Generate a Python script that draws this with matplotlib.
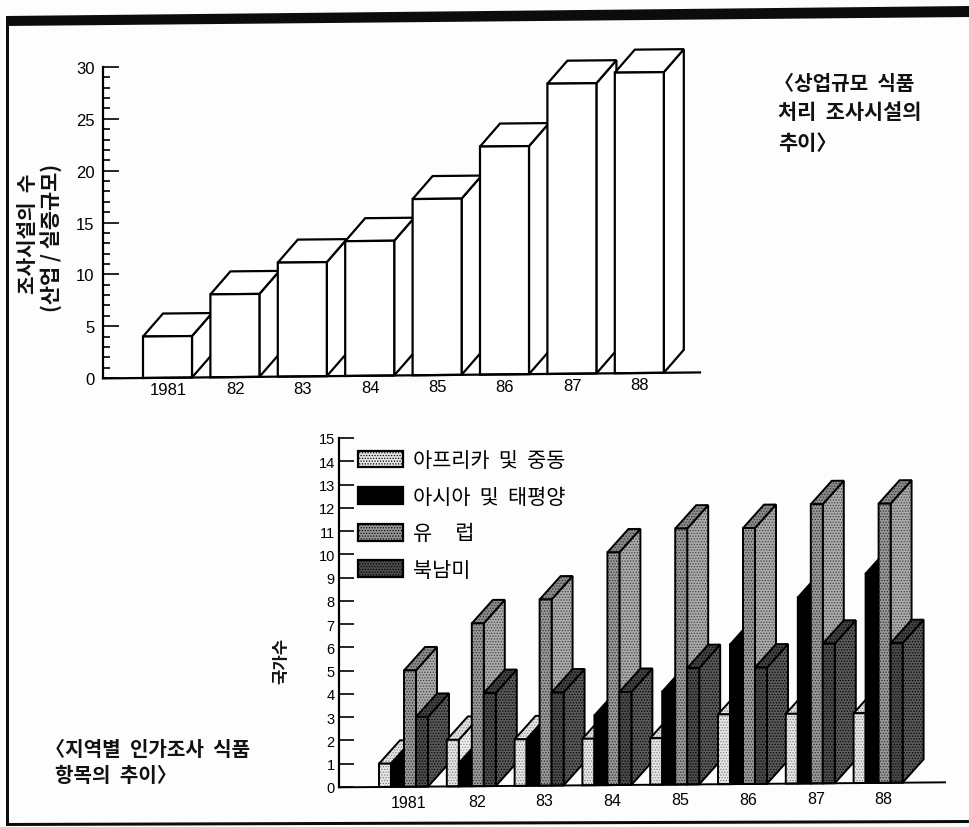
import matplotlib
matplotlib.use('Agg')
import matplotlib.pyplot as plt
from matplotlib.patches import Polygon, Patch
from matplotlib.transforms import Affine2D

plt.rcParams['font.family'] = ['Noto Sans CJK KR', 'DejaVu Sans']
plt.rcParams['hatch.linewidth'] = 0.6

years = ['1981', '82', '83', '84', '85', '86', '87', '88']
facilities = [4, 8, 11, 13, 17, 22, 28, 29]

africa = [1, 2, 2, 2, 2, 3, 3, 3]
asia = [1, 1, 2, 3, 4, 6, 8, 9]
europe = [5, 7, 8, 10, 11, 11, 12, 12]
america = [3, 4, 4, 4, 5, 5, 6, 6]
region_names = ['아프리카  및  중동', '아시아  및  태평양', '유     럽', '북남미']

W, H = 970, 828
fig = plt.figure(figsize=(W / 100, H / 100), dpi=100, facecolor='#fdfdfd')


def axes_px(x0, x1, ytop, ybottom):
    return fig.add_axes([x0 / W, 1 - ybottom / H, (x1 - x0) / W, (ybottom - ytop) / H])


def box(ax, x, w, v, dx, dy, trans, front, side, top, hatch=None, lw=1.6):
    faces = [
        ([(x + w, 0), (x + w + dx, dy), (x + w + dx, v + dy), (x + w, v)], side),
        ([(x, v), (x + w, v), (x + w + dx, v + dy), (x + dx, v + dy)], top),
        ([(x, 0), (x + w, 0), (x + w, v), (x, v)], front),
    ]
    for pts, col in faces:
        if hatch:
            # stipple goes in a separate patch so the outline stays black
            ax.add_patch(Polygon(pts, closed=True, facecolor=col[0], edgecolor=col[1], hatch=hatch,
                                 lw=0, transform=trans, clip_on=False))
            ax.add_patch(Polygon(pts, closed=True, fill=False, edgecolor='k', lw=lw,
                                 transform=trans, clip_on=False))
        else:
            ax.add_patch(Polygon(pts, closed=True, facecolor=col, edgecolor='k', lw=lw,
                                 transform=trans, clip_on=False))


def setup_axis(ax, major, minor, ylim, size, maj_len, pad):
    ax.set_ylim(ylim)
    for s in ['top', 'right', 'bottom']:
        ax.spines[s].set_visible(False)
    ax.spines['left'].set_linewidth(1.6)
    ax.patch.set_visible(False)
    ax.set_xticks([])
    ax.set_yticks(major)
    if minor:
        ax.set_yticks(minor, minor=True)
    ax.tick_params(axis='y', which='major', direction='in', length=maj_len, width=1.2,
                   labelsize=size, pad=pad)
    ax.tick_params(axis='y', which='minor', direction='in', length=5, width=1.2)
    for t in ax.get_yticklabels():
        t.set_fontfamily(['Liberation Sans'])


# ---- top chart
ax1 = axes_px(103, 700, 68, 379)
step = 67.4
ax1.set_xlim(-40 / step, 557 / step)
setup_axis(ax1, range(0, 31, 5), range(0, 31), (0, 30), 12, 11.5, 6)
skew1 = Affine2D.from_values(1, 0.065, 0, 1, 0, 0) + ax1.transData
for i, v in enumerate(facilities):
    box(ax1, i, 49 / step, v, 20 / step, 2.2, skew1, 'white', 'white', 'white')
    ax1.text(i + 25 / step, -1.15, years[i], transform=skew1, ha='center', va='center',
             fontsize=12, family=['Liberation Sans'])
ax1.plot([-40 / step, 557 / step], [0, 0], color='k', lw=1.6, transform=skew1, clip_on=False)

# ---- bottom chart
ax2 = axes_px(339, 945, 439, 788)
step2 = 67.8
ax2.set_xlim(-40 / step2, 566 / step2)
setup_axis(ax2, range(0, 16), None, (0, 15), 10.5, 11, 3)
skew2 = Affine2D.from_values(1, 0.024, 0, 1, 0, 0) + ax2.transData

# front, side, top as (face, stipple) pairs
styles = [
    (('#e6e6e6', '#808080'), ('#efefef', '#909090'), ('#e6e6e6', '#808080'), '......'),
    (('#000000', '#000000'), ('#000000', '#000000'), ('#000000', '#000000'), None),
    (('#989898', '#303030'), ('#ababab', '#404040'), ('#8c8c8c', '#303030'), '......'),
    (('#4c4c4c', '#000000'), ('#5a5a5a', '#000000'), ('#444444', '#000000'), '......'),
]
offsets = [0, 12 / step2, 25 / step2, 37 / step2]
series = [africa, asia, europe, america]
for i in range(len(years)):
    for s, vals in enumerate(series):
        front, side, top, hatch = styles[s]
        if hatch:
            box(ax2, i + offsets[s], 12 / step2, vals[i], 21 / step2, 1.0, skew2,
                front, side, top, hatch=hatch, lw=1.4)
        else:
            box(ax2, i + offsets[s], 13 / step2, vals[i], 21 / step2, 1.0, skew2,
                front[0], side[0], top[0], lw=1.4)
    ax2.text(i + 30 / step2, -0.66, years[i], transform=skew2, ha='center', va='center',
             fontsize=11.5, family=['Liberation Sans'])
ax2.plot([-40 / step2, 566 / step2], [0, 0], color='k', lw=1.4, transform=skew2, clip_on=False)

handles = []
for s in range(4):
    front, side, top, hatch = styles[s]
    handles.append(Patch(facecolor=front[0], edgecolor='k' if hatch else front[0], hatch=hatch, lw=1.6))
leg = ax2.legend(handles, region_names, loc='upper left', frameon=False,
                 bbox_to_anchor=(0.031, 0.968), fontsize=15, handlelength=2.15, handleheight=0.87,
                 labelspacing=0.7, handletextpad=0.5, borderaxespad=0, borderpad=0)

# ---- text
bold = dict(family=['Noto Sans CJK KR'], fontweight='bold', color='#111111')
fig.text(774 / W, 1 - 84 / H, '〈상업규모  식품', fontsize=14.5, va='center', **bold)
fig.text(778 / W, 1 - 113 / H, '처리  조사시설의', fontsize=15, va='center', **bold)
fig.text(778 / W, 1 - 143 / H, '추이〉', fontsize=15, va='center', **bold)
fig.text(45 / W, 1 - 750 / H, '〈지역별  인가조사  식품', fontsize=14.5, va='center', **bold)
fig.text(55 / W, 1 - 776 / H, '항목의  추이〉', fontsize=14.5, va='center', **bold)
fig.text(28 / W, 1 - 234 / H, '조사시설의  수', fontsize=14.5, rotation=90, ha='center', va='center', **bold)
fig.text(51 / W, 1 - 238 / H, '(산업 / 실증규모)', fontsize=15, rotation=90, ha='center', va='center', **bold)
fig.text(281 / W, 1 - 661 / H, '국가수', fontsize=12, rotation=90, ha='center', va='center', **bold)

# page rules, slightly off square like the scan
rules = [
    [(6, 17), (970, 7), (970, 18), (6, 27)],
    [(6, 17), (9, 17), (9, 827), (6, 827)],
    [(6, 824), (970, 821), (970, 824), (6, 827)],
]
for pts in rules:
    fig.add_artist(Polygon([(x / W, 1 - y / H) for x, y in pts], closed=True, color='#0c0c0c', lw=0,
                           transform=fig.transFigure))

fig.savefig('out.png', dpi=100, facecolor=fig.get_facecolor())
